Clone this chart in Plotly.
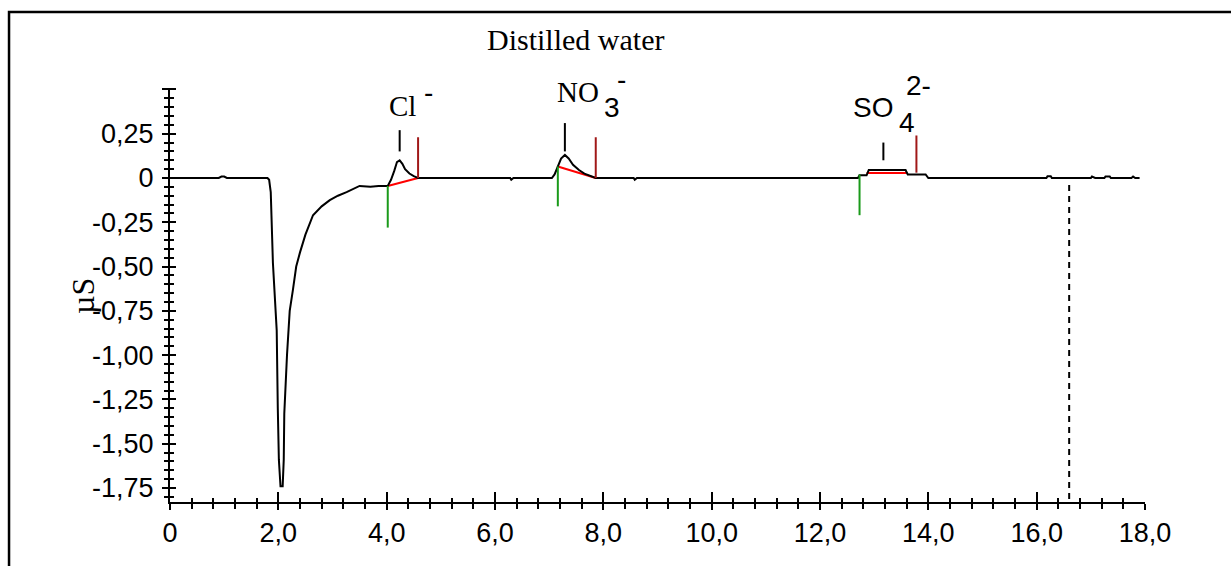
import plotly.graph_objects as go

# ---------------- data ----------------
time_min = [0.0, 0.9, 0.95, 1.0, 1.05, 1.80, 1.83, 1.86, 1.90, 1.97, 1.99, 2.01, 2.04, 2.08, 2.10,
            2.11, 2.16, 2.21, 2.27, 2.33, 2.40, 2.50, 2.64, 2.80, 2.95, 3.10, 3.26, 3.40, 3.50,
            3.70, 3.85, 4.02, 4.08, 4.14, 4.19, 4.24, 4.29, 4.34, 4.42, 4.50, 4.58, 6.28,
            6.30, 6.34, 7.05, 7.10, 7.16, 7.22, 7.29, 7.36, 7.44, 7.55, 7.65, 7.76, 7.86,
            8.56, 8.58, 8.62, 12.70, 12.73, 12.86, 12.90, 13.58, 13.62, 13.95, 14.00,
            16.18, 16.20, 16.26, 16.28, 17.00, 17.02, 17.08, 17.25, 17.27, 17.35, 17.37,
            17.75, 17.78, 17.82, 17.90]
conductivity = [0.0, 0.0, 0.008, 0.008, 0.0, 0.0, -0.01, -0.08, -0.48, -0.86, -1.30, -1.59, -1.74,
                -1.74, -1.59, -1.33, -1.00, -0.75, -0.63, -0.50, -0.42, -0.32, -0.21, -0.16,
                -0.125, -0.10, -0.08, -0.06, -0.045, -0.05, -0.045, -0.045, -0.01, 0.04, 0.09,
                0.10, 0.08, 0.05, 0.025, 0.01, 0.0, 0.0, -0.01, 0.0, 0.0, 0.02, 0.065, 0.11,
                0.13, 0.11, 0.075, 0.045, 0.025, 0.01, 0.0, 0.0, -0.01, 0.0, 0.0, 0.015, 0.015,
                0.045, 0.045, 0.02, 0.02, 0.0, 0.0, 0.01, 0.01, 0.0, 0.0, 0.008, 0.0, 0.0, 0.008,
                0.008, 0.0, 0.0, 0.008, 0.0, 0.0]

ion_names = ["Cl", "NO3", "SO4"]
peak_start = [4.02, 7.16, 12.73]
peak_apex = [4.24, 7.29, 13.17]
peak_end = [4.58, 7.86, 13.78]
base_start_t = [4.02, 7.16, 12.86]
base_start_v = [-0.045, 0.065, 0.028]
base_end_t = [4.58, 7.86, 13.60]
base_end_v = [0.0, 0.0, 0.028]
start_mark_top = [-0.045, 0.065, 0.02]
start_mark_bottom = [-0.28, -0.16, -0.21]
end_mark_bottom = [0.0, 0.0, 0.03]
end_mark_top = [0.23, 0.23, 0.24]
apex_mark_bottom = [0.15, 0.15, 0.10]
apex_mark_top = [0.27, 0.31, 0.20]
end_of_window = 16.6
end_window_top = -0.04

x_tick_vals = [0, 2, 4, 6, 8, 10, 12, 14, 16, 18]
x_tick_text = ["0", "2,0", "4,0", "6,0", "8,0", "10,0", "12,0", "14,0", "16,0", "18,0"]
y_tick_vals = [0.5, 0.25, 0, -0.25, -0.5, -0.75, -1.0, -1.25, -1.5, -1.75]
y_tick_text = ["", "0,25", "0", "-0,25", "-0,50", "-0,75", "-1,00", "-1,25", "-1,50", "-1,75"]

X_RANGE = [0, 18]
Y_RANGE = [-1.829, 0.508]


def segments(x0s, y0s, x1s, y1s):
    xs, ys = [], []
    for a, b, c, d in zip(x0s, y0s, x1s, y1s):
        xs += [a, c, None]
        ys += [b, d, None]
    return xs, ys


fig = go.Figure()

# red baselines
bx, by = segments(base_start_t, base_start_v, base_end_t, base_end_v)
fig.add_trace(go.Scatter(x=bx, y=by, mode="lines", line=dict(color="#ff0000", width=2),
                         hoverinfo="skip", showlegend=False))
# main chromatogram
fig.add_trace(go.Scatter(x=time_min, y=conductivity, mode="lines",
                         line=dict(color="black", width=2), showlegend=False))
# start markers (green)
sx, sy = segments(peak_start, start_mark_top, peak_start, start_mark_bottom)
fig.add_trace(go.Scatter(x=sx, y=sy, mode="lines", line=dict(color="#1a9a1a", width=2),
                         hoverinfo="skip", showlegend=False))
# end markers (dark red)
ex, ey = segments(peak_end, end_mark_bottom, peak_end, end_mark_top)
fig.add_trace(go.Scatter(x=ex, y=ey, mode="lines", line=dict(color="#a01818", width=2),
                         hoverinfo="skip", showlegend=False))
# apex markers (black)
ax_, ay_ = segments(peak_apex, apex_mark_bottom, peak_apex, apex_mark_top)
fig.add_trace(go.Scatter(x=ax_, y=ay_, mode="lines", line=dict(color="black", width=2),
                         hoverinfo="skip", showlegend=False))
# dashed end-of-window line
fig.add_trace(go.Scatter(x=[end_of_window, end_of_window], y=[end_window_top, Y_RANGE[0]],
                         mode="lines", line=dict(color="black", width=2, dash="6px,5px"),
                         hoverinfo="skip", showlegend=False))
# dummy trace for overlay axes (inner halves of crossing ticks)
fig.add_trace(go.Scatter(x=[None], y=[None], xaxis="x2", yaxis="y2", showlegend=False,
                         hoverinfo="skip"))

tick_font = dict(family="Liberation Sans, Arial, sans-serif", size=27, color="black")

fig.update_layout(
    width=1231, height=566, autosize=False,
    margin=dict(l=170, r=86, t=88, b=64, pad=0),
    paper_bgcolor="white", plot_bgcolor="rgba(0,0,0,0)",
    xaxis=dict(range=X_RANGE, showgrid=False, zeroline=False, showline=True, linecolor="black",
               linewidth=2, ticks="outside", ticklen=6, tickwidth=2, tickcolor="black",
               tickvals=x_tick_vals, ticktext=x_tick_text, tickfont=tick_font,
               ticklabelstandoff=0,
               minor=dict(ticks="outside", dtick=0.4, tick0=0, ticklen=5, tickwidth=2,
                          tickcolor="black", showgrid=False)),
    yaxis=dict(range=Y_RANGE, showgrid=False, zeroline=False, showline=True, linecolor="black",
               linewidth=2, ticks="outside", ticklen=6, tickwidth=2, tickcolor="black",
               tickvals=y_tick_vals, ticktext=y_tick_text, tickfont=tick_font,
               ticklabelstandoff=3,
               minor=dict(ticks="outside", dtick=0.05, tick0=0, ticklen=4, tickwidth=2,
                          tickcolor="black", showgrid=False)),
    xaxis2=dict(range=X_RANGE, overlaying="x", anchor="y2", side="bottom", showgrid=False,
                zeroline=False, showline=False, ticks="inside", ticklen=10, tickwidth=2,
                tickcolor="black", tickvals=x_tick_vals, showticklabels=False,
                minor=dict(ticks="inside", dtick=0.4, tick0=0, ticklen=4, tickwidth=2,
                           tickcolor="black", showgrid=False)),
    yaxis2=dict(range=Y_RANGE, overlaying="y", anchor="x2", side="left", showgrid=False,
                zeroline=False, showline=False, ticks="inside", ticklen=6, tickwidth=2,
                tickcolor="black", tickvals=y_tick_vals, showticklabels=False,
                minor=dict(ticks="inside", dtick=0.05, tick0=0, ticklen=4, tickwidth=2,
                           tickcolor="black", showgrid=False)),
    shapes=[dict(type="rect", xref="paper", yref="paper", x0=-0.1651, x1=1.2, y0=-0.3,
                 y1=1.1836, line=dict(color="black", width=2.5), fillcolor="rgba(0,0,0,0)",
                 layer="below")],
)

serif = "Liberation Serif, Times New Roman, serif"
sans = "Liberation Sans, Arial, sans-serif"


def px_to_paper(px, py):
    return (px - 170) / 975.0, (502 - py) / 414.0


ann = []
tx, ty = px_to_paper(575, 40)
ann.append(dict(text="Distilled water", xref="paper", yref="paper", x=tx, y=ty,
                showarrow=False, font=dict(family=serif, size=30, color="black"),
                xanchor="center", yanchor="middle"))
tx, ty = px_to_paper(83, 296)
ann.append(dict(text="µS", xref="paper", yref="paper", x=tx, y=ty, textangle=-90,
                showarrow=False, font=dict(family=serif, size=32, color="black"),
                xanchor="center", yanchor="middle"))
labels = [
    ("Cl", 402, 106, serif, 29), ("-", 428, 92, sans, 28),
    ("NO", 578, 92, serif, 29), ("3", 612, 107, sans, 28), ("-", 621, 80, sans, 28),
    ("SO", 873, 107, sans, 28), ("4", 907, 122, sans, 28), ("2-", 918, 86, sans, 28),
]
for txt, px, py, fam, sz in labels:
    tx, ty = px_to_paper(px, py)
    ann.append(dict(text=txt, xref="paper", yref="paper", x=tx, y=ty, showarrow=False,
                    font=dict(family=fam, size=sz, color="black"),
                    xanchor="center", yanchor="middle"))
fig.update_layout(annotations=ann)

fig.write_html("out.html")
